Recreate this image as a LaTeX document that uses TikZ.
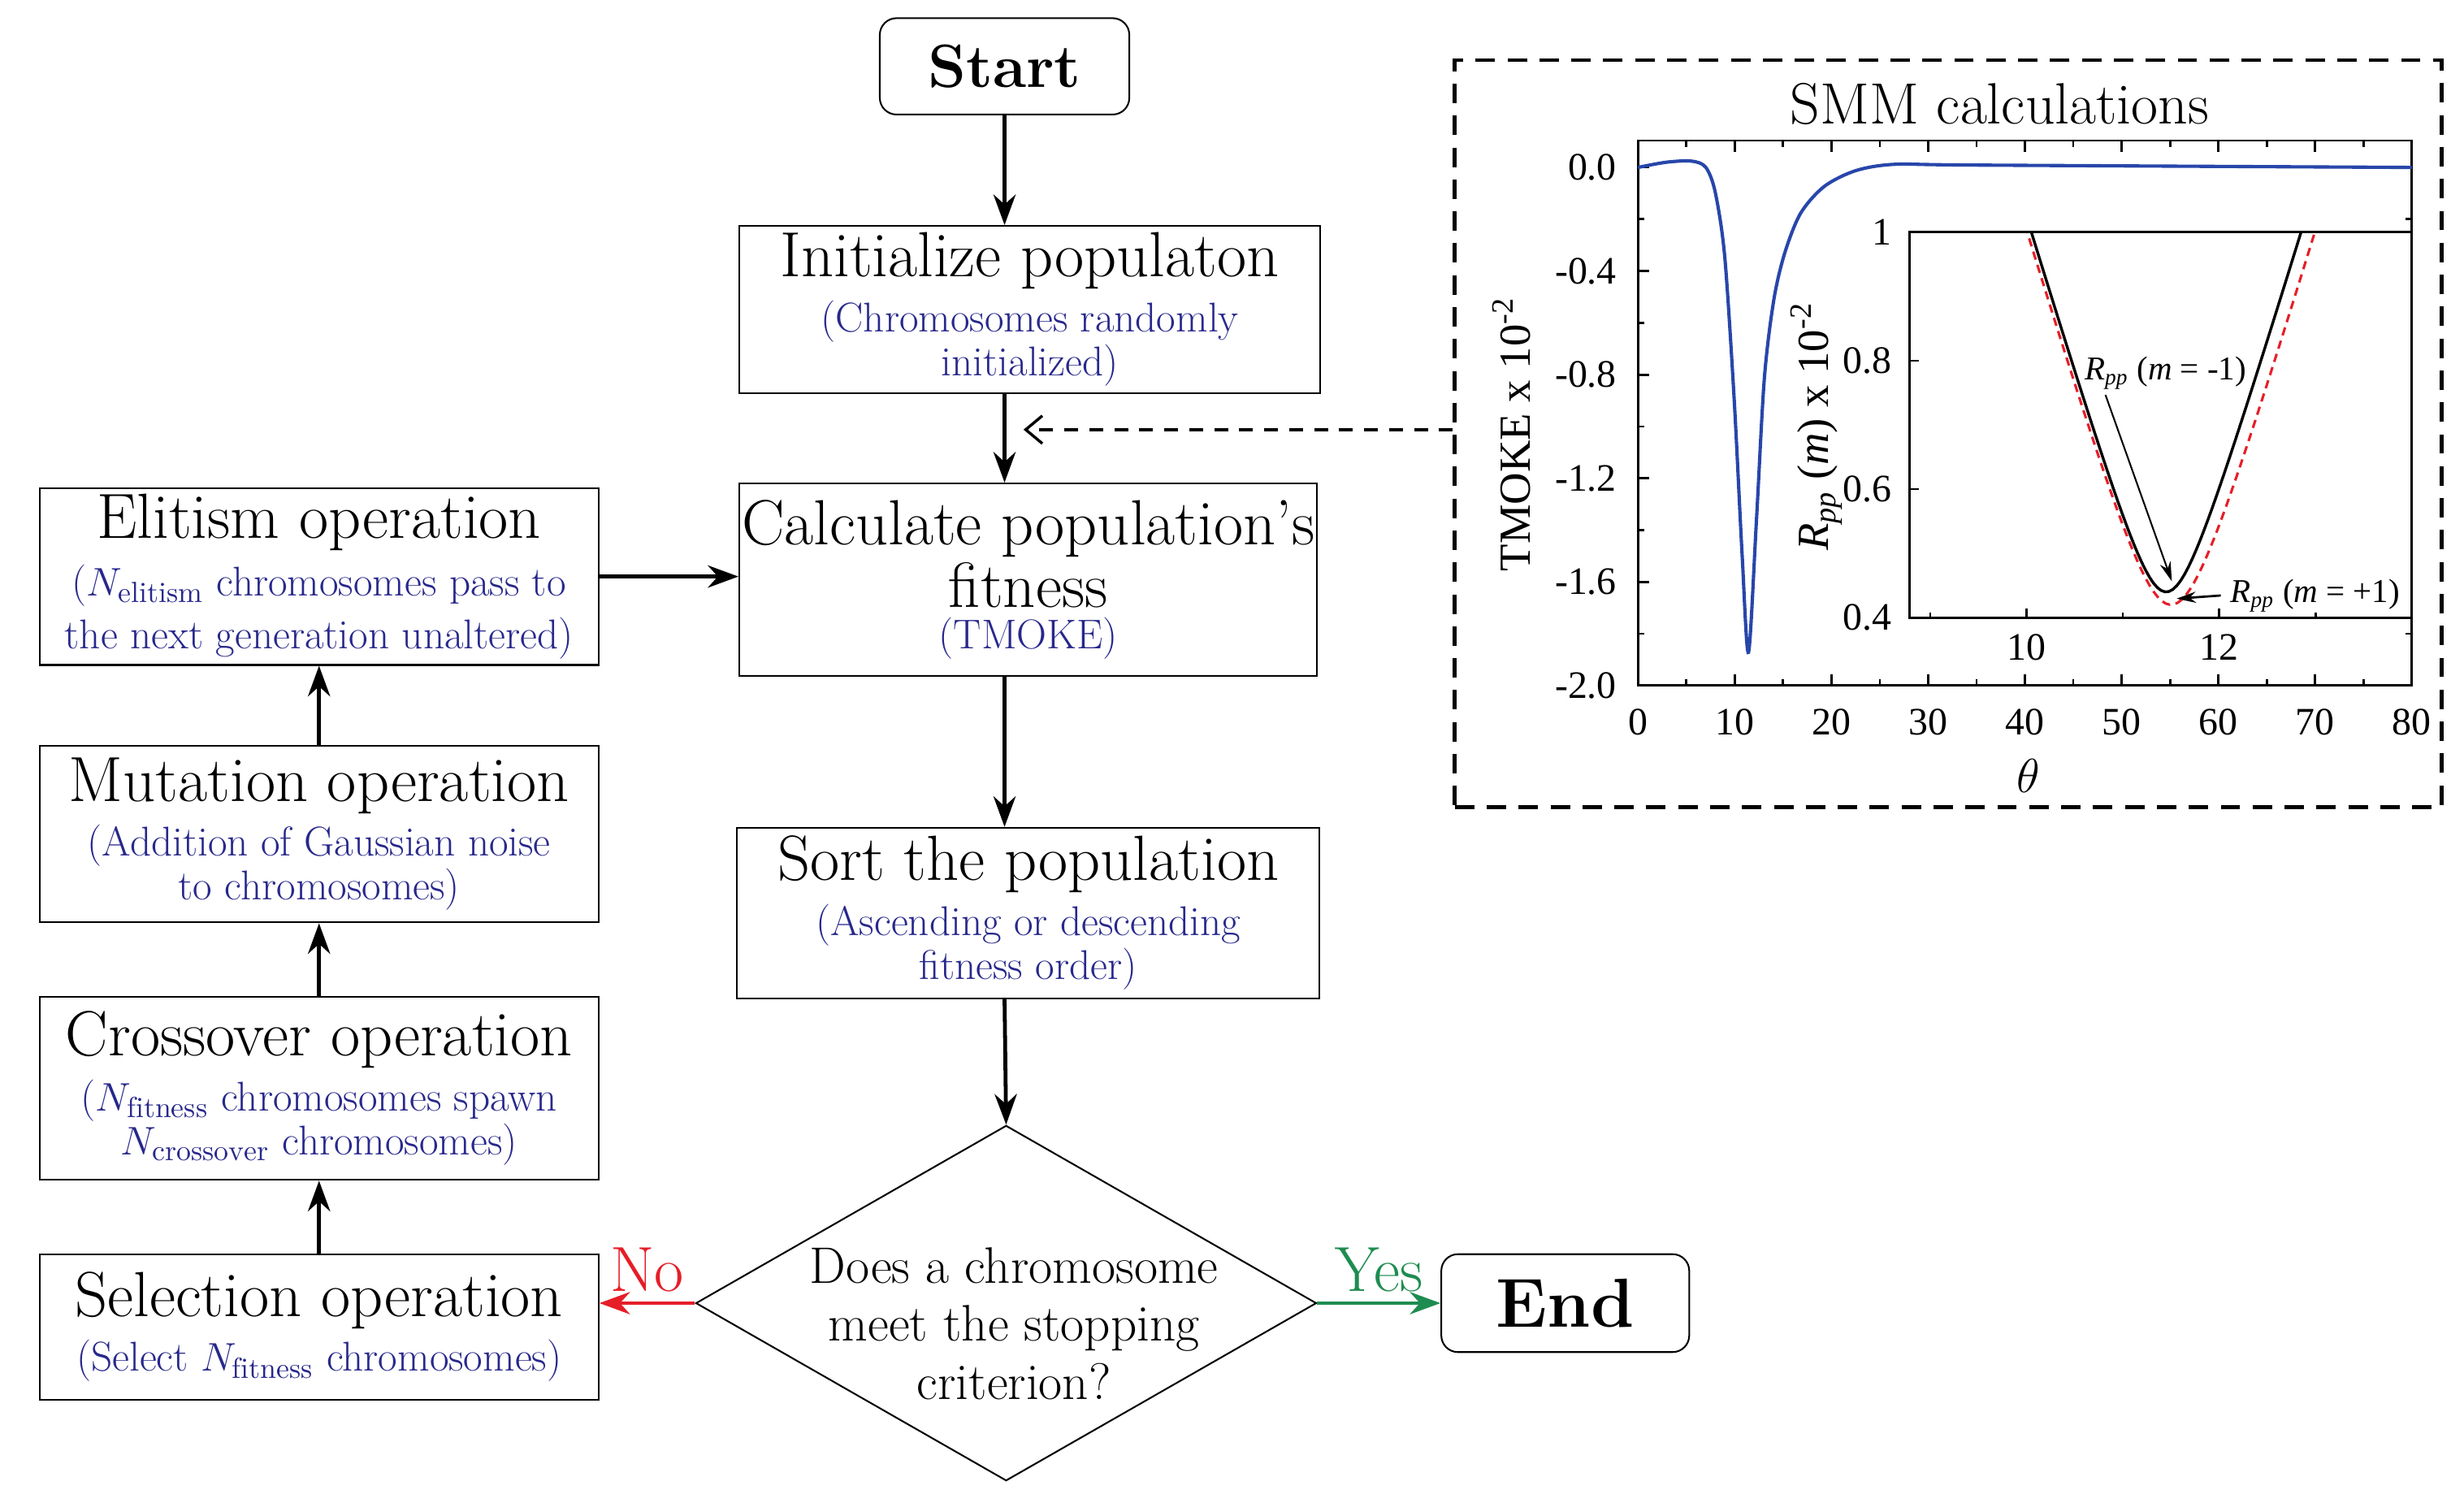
\documentclass[tikz,border=0pt]{standalone}
\usepackage{fontspec}
\newfontfamily\tnr{Liberation Serif}
\usetikzlibrary{shapes.geometric,arrows.meta}
\definecolor{sub}{RGB}{40,40,140}
\definecolor{noc}{RGB}{230,30,40}
\definecolor{yesc}{RGB}{30,140,80}
\definecolor{curve}{RGB}{40,70,170}
\newcommand{\ttl}{\fontsize{23}{25}\selectfont}
\newcommand{\sbt}{\fontsize{15}{17}\selectfont\color{sub}}
\begin{document}
\begin{tikzpicture}[x=0.02cm,y=-0.02cm,
  box/.style={draw,line width=0.6pt,align=center,inner sep=0pt},
  term/.style={box,rounded corners=6pt,font=\bfseries},
  arr/.style={line width=1.4pt,-{Stealth[length=11pt,width=8pt]}},
  tk/.style={line width=0.8pt}]
\useasboundingbox (0,0) rectangle (1560,943);
% flowchart nodes
\node[term,minimum width=3.16cm,minimum height=1.22cm,font=\bfseries\fontsize{22}{24}\selectfont] (start) at (636,42) {Start};
\node[box,minimum width=7.36cm,minimum height=2.12cm] (init) at (652,196)
 {\ttl Initialize populaton\\[3pt]\sbt (Chromosomes randomly\\\sbt initialized)};
\node[box,minimum width=7.32cm,minimum height=2.44cm] (calc) at (651,367)
 {\ttl Calculate population's\\[1pt]\ttl fitness\\[3pt]\sbt (TMOKE)};
\node[box,minimum width=7.38cm,minimum height=2.16cm] (sort) at (651,578)
 {\ttl Sort the population\\[3pt]\sbt (Ascending or descending\\\sbt fitness order)};
\node[draw,diamond,line width=0.6pt,minimum width=7.86cm,minimum height=4.5cm,inner sep=0pt,aspect=1.75] (dec) at (637,825) {};
\node[align=center,font=\fontsize{18.5}{21}\selectfont] (dect) at (642,838) {Does a chromosome\\meet the stopping\\criterion?};
\node[term,minimum width=3.14cm,minimum height=1.24cm,font=\bfseries\fontsize{25}{27}\selectfont] (end) at (991,825) {End};
\node[box,minimum width=7.08cm,minimum height=2.24cm] (elit) at (202,365)
 {\ttl Elitism operation\\[4pt]\sbt ($N_{\mathrm{elitism}}$ chromosomes pass to\\[3pt]\sbt the next generation unaltered)};
\node[box,minimum width=7.08cm,minimum height=2.24cm] (mut) at (202,528)
 {\ttl Mutation operation\\[3pt]\sbt (Addition of Gaussian noise\\\sbt to chromosomes)};
\node[box,minimum width=7.08cm,minimum height=2.32cm] (cross) at (202,689)
 {\ttl Crossover operation\\[3pt]\sbt ($N_{\mathrm{fitness}}$ chromosomes spawn\\\sbt $N_{\mathrm{crossover}}$ chromosomes)};
\node[box,minimum width=7.08cm,minimum height=1.84cm] (sel) at (202,840)
 {\ttl Selection operation\\[3pt]\sbt (Select $N_{\mathrm{fitness}}$ chromosomes)};
% connectors
\draw[arr] (start) -- (start |- init.north);
\draw[arr] (init.south -| start) -- (start |- calc.north);
\draw[arr] (calc.south -| start) -- (start |- sort.north);
\draw[arr] (sort.south -| start) -- (dec.north);
\draw[arr] (sel) -- (cross);
\draw[arr] (cross) -- (mut);
\draw[arr] (mut) -- (elit);
\draw[arr] (elit) -- (elit -| calc.west);
\draw[arr,noc] (dec.west) -- (sel.east |- dec.west) node[midway,above=0pt,font=\fontsize{23}{25}\selectfont] {No};
\draw[arr,yesc] (dec.east) -- (end) node[midway,above=0pt,font=\fontsize{23}{25}\selectfont] {Yes};
% SMM box
\node[draw,line width=1.4pt,dash pattern=on 7pt off 4.5pt,minimum width=12.5cm,minimum height=9.46cm,inner sep=0pt] (smm) at (1233.5,274.5) {};
\coordinate (tip) at (648,272);
\draw[line width=1pt,dash pattern=on 5pt off 4pt,-{Straight Barb[length=6pt,width=10pt]}] (smm.west |- tip) -- (tip);
\node[font=\fontsize{21}{24}\selectfont] (ttl) at (1266,66) {SMM calculations};
% main plot
\begin{scope}[tk]
\draw (1037,89) rectangle (1527,434);
\foreach \i in {0,10,...,80} {
  \draw ({1037+\i*6.125},434) -- ++(0,-7) ({1037+\i*6.125},89) -- ++(0,7);
  \node[font=\tnr\fontsize{14}{15}\selectfont] at ({1037+\i*6.125},457) {\i};}
\foreach \i in {5,15,...,75} {\draw ({1037+\i*6.125},434) -- ++(0,-4) ({1037+\i*6.125},89) -- ++(0,4);}
\foreach \v/\l in {0/0.0,1/-0.4,2/-0.8,3/-1.2,4/-1.6,5/-2.0} {
  \draw (1037,{106+\v*65.6}) -- ++(7,0) (1527,{106+\v*65.6}) -- ++(-7,0);
  \node[font=\tnr\fontsize{14}{15}\selectfont,anchor=east] at (1030,{106+\v*65.6}) {\l};}
\foreach \v in {1,3,5,7,9} {\draw (1037,{106+\v*32.8}) -- ++(4,0) (1527,{106+\v*32.8}) -- ++(-4,0);}
\end{scope}
\draw[curve,line width=1.2pt] plot[smooth,tension=0.5] coordinates {
 (1037,106) (1055,102.7) (1071,102) (1080,106) (1086,122) (1092,163) (1098,254) (1103,352) (1107,413) (1112,330) (1117,240) (1123,190) (1130,160) (1140,135) (1155,118) (1175,108) (1200,104) (1250,104.5) (1527,106)};
\node[rotate=90,font=\tnr\fontsize{16}{18}\selectfont] (yl) at (957,275) {TMOKE x 10\textsuperscript{-2}};
\node[font=\fontsize{19}{21}\selectfont] (th) at (1284,491) {$\theta$};
% inset
\fill[white] (1209,147) rectangle (1527,391);
\begin{scope}
\clip (1209,147) rectangle (1527,391);
\draw[noc,line width=0.9pt,dash pattern=on 3pt off 2pt] plot[domain=9.9:13.2,samples=80] ({1283+(\x-10)*61},{391-(0.02+0.5*(sqrt((\x-11.5)^2+0.1444)-0.38))*406.7});
\draw[line width=1pt] plot[domain=9.9:13.1,samples=80] ({1283+(\x-10)*61},{391-(0.04+0.495*(sqrt((\x-11.45)^2+0.09)-0.3))*406.7});
\end{scope}
\begin{scope}[tk]
\draw (1209,147) rectangle (1527,391);
\foreach \i in {10,12} {\draw ({1283+(\i-10)*61},391) -- ++(0,-6);
  \node[font=\tnr\fontsize{14}{15}\selectfont] at ({1283+(\i-10)*61},410) {\i};}
\foreach \i in {9,11,13} {\draw ({1283+(\i-10)*61},391) -- ++(0,-3);}
\foreach \v/\l in {0/0.4,1/0.6,2/0.8,3/1} {
  \draw (1209,{391-\v*81.3}) -- ++(6,0);
  \node[font=\tnr\fontsize{14}{15}\selectfont,anchor=east] at (1204,{391-\v*81.3}) {\l};}
\end{scope}
\node[rotate=90,font=\tnr\fontsize{16}{18}\selectfont] (iyl) at (1150,270) {\textit{R}\textsubscript{\textit{pp}} (\textit{m}) x 10\textsuperscript{-2}};
\node[font=\tnr\fontsize{12}{14}\selectfont] (lm) at (1371,236) {\textit{R}\textsubscript{\textit{pp}} (\textit{m} = -1)};
\coordinate (lmt) at (1375,368);
\draw[line width=0.6pt,-{Stealth[length=7pt,width=4pt]}] (1333,250) -- (lmt);
\node[font=\tnr\fontsize{12}{14}\selectfont,anchor=west] (lp) at (1406,377) {\textit{R}\textsubscript{\textit{pp}} (\textit{m} = +1)};
\coordinate (lpt) at (1378,379);
\draw[line width=0.8pt,-{Stealth[length=7pt,width=4pt]}] (lp.west) -- (lpt);
\end{tikzpicture}
\end{document}
